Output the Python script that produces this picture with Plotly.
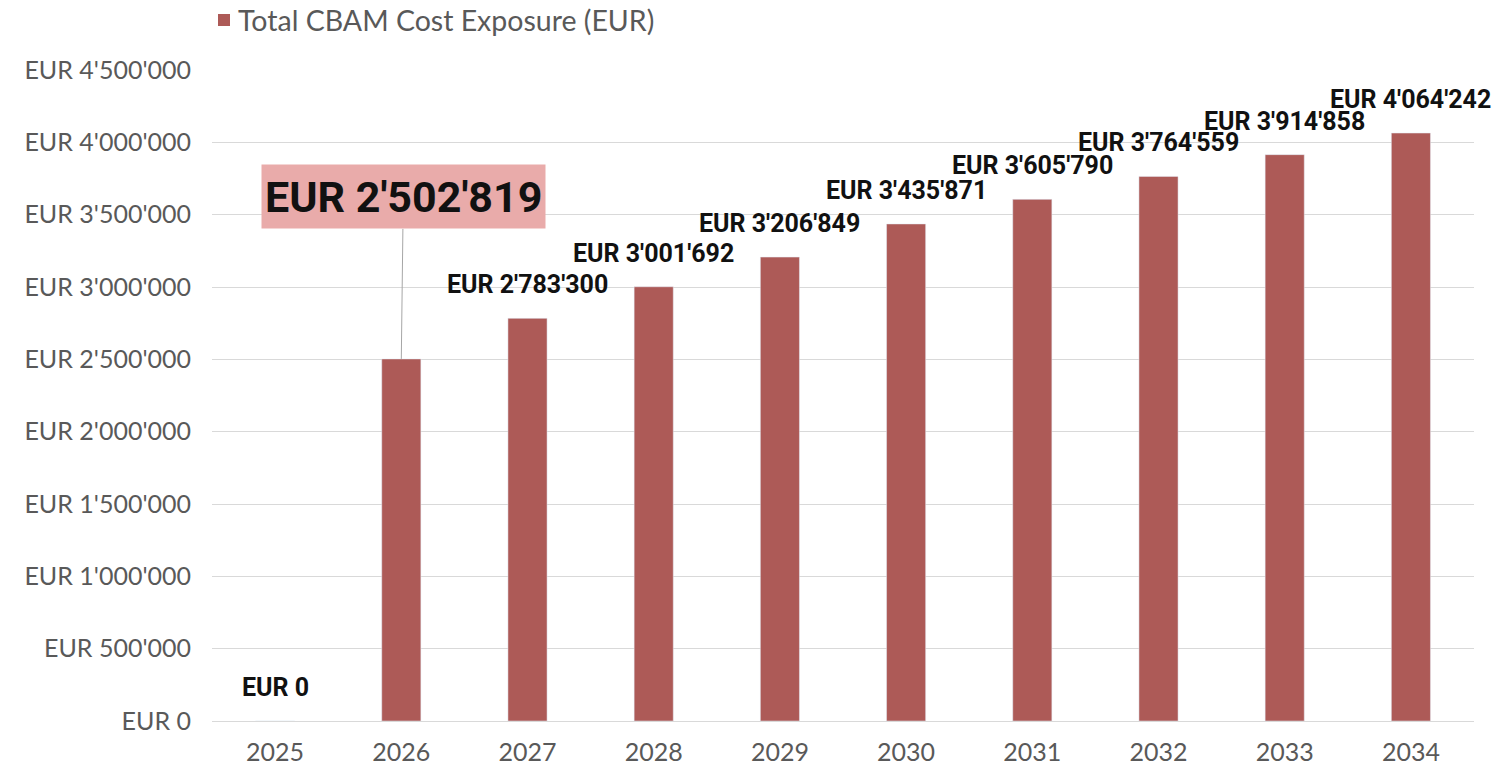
import plotly.graph_objects as go

years = [2025, 2026, 2027, 2028, 2029, 2030, 2031, 2032, 2033, 2034]
costs = [0, 2502819, 2783300, 3001692, 3206849, 3435871, 3605790, 3764559, 3914858, 4064242]
series_name = "Total CBAM Cost Exposure (EUR)"
highlight_year = 2026
tick_values = [0, 500000, 1000000, 1500000, 2000000, 2500000, 3000000, 3500000, 4000000, 4500000]


def eur(v):
    return "EUR " + f"{v:,}".replace(",", "'")


bar_color = "#ad5a57"
label_font = dict(family="Roboto", size=25, color="#111111")

fig = go.Figure()
fig.add_trace(go.Bar(
    x=years, y=costs, name=series_name, marker_color=bar_color,
    width=0.31, showlegend=False, hoverinfo="x+y",
))

for yr, v in zip(years, costs):
    if yr == highlight_year:
        continue
    fig.add_annotation(
        x=yr, y=v, text="<b>" + eur(v) + "</b>", showarrow=False,
        yanchor="bottom", yshift=17, font=label_font,
    )

hv = costs[years.index(highlight_year)]
fig.add_annotation(
    x=highlight_year, y=hv, text="<b>" + eur(hv) + "</b>",
    showarrow=True, arrowhead=0, arrowwidth=1, arrowcolor="#a6a6a6",
    ax=2, ay=-162, bgcolor="#e9abaa", borderpad=3, height=57,
    font=dict(family="Roboto", size=43, color="#111111"),
)

# legend key (square + series name), placed above the plot area
fig.add_shape(
    type="rect", xref="paper", yref="paper",
    x0=0.00475, x1=0.01426, y0=1.0676, y1=1.0860,
    fillcolor=bar_color, line=dict(width=0),
)
fig.add_annotation(
    xref="paper", yref="paper", x=0.019, y=1.0768,
    xanchor="left", yanchor="middle", showarrow=False, text=series_name,
    font=dict(family="Lato", size=28.5, color="#595959"),
)

axis_font = dict(family="Lato", size=25, color="#595959")
fig.update_layout(
    width=1510, height=765,
    margin=dict(l=204, r=44, t=62, b=52),
    paper_bgcolor="white", plot_bgcolor="white",
    showlegend=False,
    xaxis=dict(
        range=[2024.5, 2034.5], tickvals=years, ticktext=[str(y) for y in years],
        tickfont=axis_font, showgrid=False, showline=False, zeroline=False,
        ticks="outside", ticklen=9, tickcolor="rgba(0,0,0,0)", automargin=False,
    ),
    yaxis=dict(
        range=[0, 4500000], tickvals=tick_values,
        ticktext=[eur(v) for v in tick_values], tickfont=axis_font,
        showgrid=True, gridcolor="#d9d9d9", gridwidth=1.2, zeroline=True,
        zerolinecolor="#d9d9d9", zerolinewidth=1.2, showline=False,
        ticks="outside", ticklen=15, tickcolor="rgba(0,0,0,0)", automargin=False,
    ),
)

fig.write_html("out.html")
